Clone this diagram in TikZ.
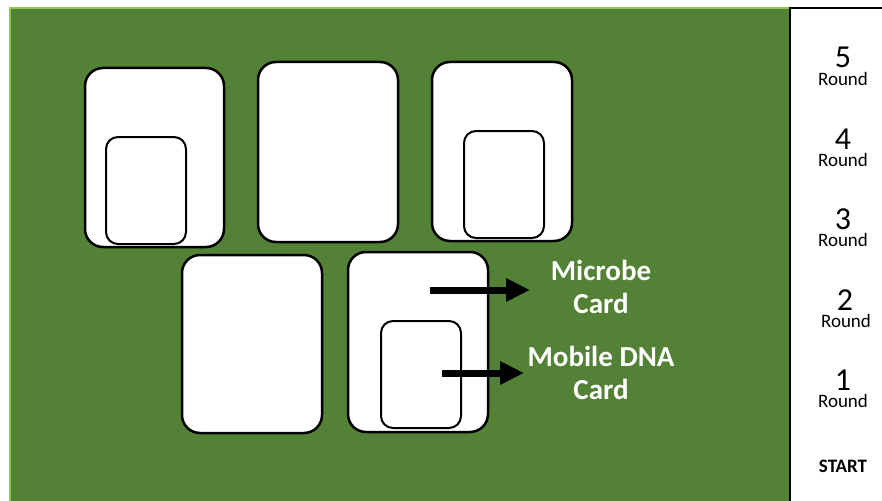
\documentclass[tikz,border=0pt]{standalone}
\usepackage{fontspec}
\setmainfont{Carlito}
\usetikzlibrary{arrows.meta}
\definecolor{feltgreen}{HTML}{538135}
\definecolor{feltedge}{HTML}{8CC84B}
\tikzset{
  card/.style={draw=black, fill=white, line width=2.5pt, rounded corners=18pt, minimum width=140pt, minimum height=180pt, inner sep=0pt},
  minicard/.style={draw=black, fill=white, line width=2pt, rounded corners=12pt, minimum width=80pt, minimum height=107pt, inner sep=0pt},
  bigarrow/.style={line width=7pt, -{Triangle[width=22pt,length=24pt]}},
  label/.style={text=white, font=\bfseries\fontsize{29}{33}\selectfont, align=center},
  num/.style={font=\fontsize{32}{32}\selectfont, inner sep=0pt, anchor=base, text height=20pt, text depth=0pt},
  rnd/.style={font=\fontsize{19}{19}\selectfont, inner sep=0pt, anchor=base, text height=11pt, text depth=3pt},
}
\begin{document}
\begin{tikzpicture}[x=1pt,y=-1pt]
\useasboundingbox (0,0) rectangle (882,500);
\fill[white] (0,0) rectangle (882,500);
\draw[fill=feltgreen, draw=feltedge, line width=2.5pt] (10,8) rectangle (800,510);
\draw[fill=white, draw=black, line width=2.5pt] (790,8) rectangle (890,510);
% cards
\node[card, minimum width=139pt, minimum height=179pt] (c1) at (154.5,157.5) {};
\node[minicard] (m1) at (146,190.5) {};
\node[card] (c2) at (328,152) {};
\node[card, minimum height=179pt] (c3) at (502,151.5) {};
\node[minicard] (m3) at (504,184.5) {};
\node[card, minimum height=178pt] (c4) at (252,344) {};
\node[card] (c5) at (418,342) {};
\node[minicard] (m5) at (421,374.5) {};
% labels
\node[label] (microbe) at (601,287) {Microbe\\Card};
\node[label] (mobile) at (601,373) {Mobile DNA\\Card};
% arrows
\coordinate (a1s) at (430,290);
\coordinate (a1e) at (530,290);
\coordinate (a2s) at (442,373);
\coordinate (a2e) at (524,373);
\draw[bigarrow] (a1s) -- (a1e);
\draw[bigarrow] (a2s) -- (a2e);
% rounds
\node[num] (n5) at (843,68) {5};
\node[rnd] (r5) at (843,85) {Round};
\node[num] (n4) at (843,149) {4};
\node[rnd] (r4) at (843,166) {Round};
\node[num] (n3) at (843,229) {3};
\node[rnd] (r3) at (843,246) {Round};
\node[num] (n2) at (845,310) {2};
\node[rnd] (r2) at (846,327) {Round};
\node[num] (n1) at (843,390) {1};
\node[rnd] (r1) at (843,407) {Round};
\node[font=\bfseries\fontsize{19}{19}\selectfont, anchor=base] (start) at (843,472) {START};
\end{tikzpicture}
\end{document}
